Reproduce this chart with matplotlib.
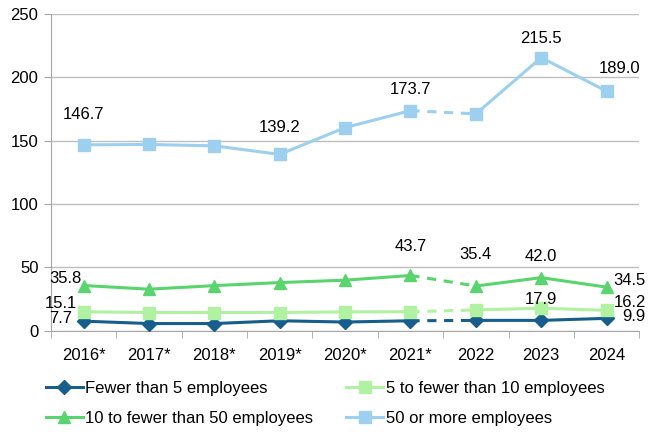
import numpy as np
import matplotlib.pyplot as plt
from matplotlib.lines import Line2D

plt.rcParams['font.family'] = ['Liberation Sans', 'DejaVu Sans']

years = ['2016*', '2017*', '2018*', '2019*', '2020*', '2021*', '2022', '2023', '2024']
fewer5 = [7.7, 5.8, 5.8, 8.0, 7.0, 8.0, 8.3, 8.3, 9.9]
five_10 = [15.1, 14.5, 14.5, 14.5, 15.0, 15.1, 16.5, 17.9, 16.2]
ten_50 = [35.8, 32.9, 35.7, 38.1, 40.0, 43.7, 35.4, 42.0, 34.5]
fifty = [146.7, 147.0, 145.9, 139.2, 160.3, 173.7, 171.1, 215.5, 189.0]

names = ['Fewer than 5 employees', '5 to fewer than 10 employees',
         '10 to fewer than 50 employees', '50 or more employees']
colors = ['#175E8C', '#B0F2A2', '#5AD46E', '#9DCFEE']
markers = ['D', 's', '^', 's']
msizes = [7, 8, 9, 8]

# which points get a label, and where: (index, dx, dy, ha) in points
labels = [
    [(0, -8, 2, 'right'), (8, 11, 1.5, 'left')],
    [(0, -5, 6, 'right'), (7, 0, 6.5, 'center'), (8, 5, 6, 'left')],
    [(0, -1.5, 5, 'right'), (5, 0, 21, 'center'), (6, 0, 23, 'center'),
     (7, 0, 15, 'center'), (8, 5, 5, 'left')],
    [(0, 0, 22, 'center'), (3, 0, 19.5, 'center'), (5, 0, 15, 'center'),
     (7, 0, 14, 'center'), (8, 9, 16.5, 'center')],
]

fig = plt.figure(figsize=(6.53, 4.32), dpi=100)
ax = fig.add_axes([0.078, 0.234, 0.901, 0.734])

x = np.arange(len(years))
series = [fewer5, five_10, ten_50, fifty]
handles = []
for vals, c, m, ms, lab in zip(series, colors, markers, msizes, labels):
    v = np.array(vals)
    ax.plot(x[:6], v[:6], color=c, lw=2.2, zorder=3)
    ax.plot(x[5:7], v[5:7], color=c, lw=2.2, ls=(0, (3, 2.5)), zorder=3)
    ax.plot(x[6:], v[6:], color=c, lw=2.2, zorder=3)
    ax.plot(x, v, ls='none', marker=m, ms=ms, color=c, mec=c, zorder=4)
    for i, dx, dy, ha in lab:
        ax.annotate(f'{v[i]:.1f}', (x[i], v[i]), xytext=(dx, dy),
                    textcoords='offset points', ha=ha, va='center',
                    fontsize=12, color='#000000', zorder=5)
    handles.append(Line2D([], [], color=c, lw=2.2, marker=m, ms=ms, mec=c))

ax.set_xlim(-0.5, 8.5)
ax.set_ylim(0, 250)
ax.set_yticks(range(0, 251, 50))
ax.set_xticks(x)
ax.set_xticklabels(years)
ax.set_xticks(np.arange(-0.5, 9, 1), minor=True)
ax.tick_params(axis='x', which='major', length=0, pad=12, labelsize=12)
ax.tick_params(axis='x', which='minor', length=5, color='#A6A6A6')
ax.tick_params(axis='y', length=5, color='#A6A6A6', labelsize=12, pad=4)
ax.grid(axis='y', color='#BFBFBF', lw=1)
ax.set_axisbelow(True)
for s in ['top', 'right']:
    ax.spines[s].set_visible(False)
for s in ['left', 'bottom']:
    ax.spines[s].set_color('#A6A6A6')

# row-major order in the legend
order = [0, 2, 1, 3]
fig.legend(handles=[handles[k] for k in order], labels=[names[k] for k in order],
           ncol=2, loc='upper left',
           bbox_to_anchor=(0.06, 0.133), frameon=False, fontsize=12,
           handlelength=2.2, handletextpad=0.15, columnspacing=2.0,
           labelspacing=0.9, borderaxespad=0)

fig.savefig('out.png', dpi=100)
